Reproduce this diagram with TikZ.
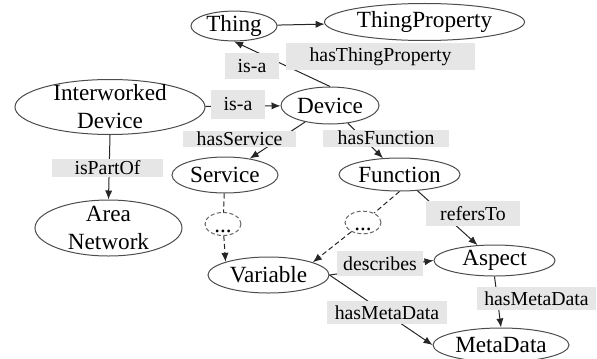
\documentclass[tikz,border=0pt]{standalone}
\usepackage{fontspec}
\setmainfont{Liberation Serif}
\usetikzlibrary{arrows.meta,shapes.geometric}
\definecolor{lblgray}{HTML}{E6E6E6}

\begin{document}
\begin{tikzpicture}[x=0.5pt,y=-0.5pt,>={Latex[length=4.5pt,width=3.6pt]},
  concept/.style={ellipse,draw=black!70,line width=0.5pt,inner sep=0pt,align=center,
    font=\fontsize{11.6}{14}\selectfont},
  hidden/.style={ellipse,draw=black!60,line width=0.5pt,dash pattern=on 2pt off 1.2pt,
    inner sep=0pt,text height=8pt,text depth=0pt,font=\fontsize{11.6}{14}\selectfont},
  rel/.style={fill=lblgray,inner sep=0pt,font=\fontsize{9.9}{12}\selectfont},
  edgeline/.style={black!85,line width=0.5pt},
  dashedge/.style={edgeline,dash pattern=on 2.5pt off 1.5pt}]
\useasboundingbox (0,0) rectangle (597,358);
% concepts
\node[concept,minimum width=43pt,minimum height=14pt]   (thing) at (234,26)    {Thing};
\node[concept,minimum width=100pt,minimum height=18.5pt] (tp)   at (424.5,22)  {ThingProperty};
\node[concept,minimum width=95pt,minimum height=27.5pt,inner ysep=-2pt] (iwd) at (110,107) {Interworked\\Device};
\node[concept,minimum width=49pt,minimum height=18.5pt]  (dev)  at (330,105.5) {Device};
\node[concept,minimum width=53pt,minimum height=18pt]    (serv) at (225,175)   {Service};
\node[concept,minimum width=60.5pt,minimum height=16.5pt] (func) at (399.5,174.5) {Function};
\node[concept,minimum width=73.5pt,minimum height=28pt,inner ysep=-2pt] (an) at (108.5,228) {Area\\Network};
\node[hidden,minimum width=18pt,minimum height=11.5pt]   (dota) at (223,224)   {...};
\node[hidden,minimum width=18pt,minimum height=10.5pt]   (dotb) at (363,222.5) {...};
\node[concept,minimum width=60.5pt,minimum height=18pt]  (var)  at (268.5,275) {Variable};
\node[concept,minimum width=60.5pt,minimum height=15.5pt] (asp) at (494.5,260.5) {Aspect};
\node[concept,minimum width=68pt,minimum height=17pt]    (md)   at (501,345)   {MetaData};
% relations
\path[->,edgeline]
          (thing)     edge (tp)
          (dev.north) edge (thing.south)
          (iwd)       edge (dev)
          (iwd.south) edge (an.north)
          (dev)       edge (serv)
          (dev)       edge (func)
          (func)      edge (asp)
          (var.east)  edge (asp.west)
          (var.east)  edge (md.west)
          (asp.south) edge (md.north);
\path[->,dashedge]
          (serv)       edge[-] (dota)
          (dota)       edge (var.163)
          (func.south) edge[-] (dotb)
          (dotb)       edge (var.16);
% labels
\node[rel,minimum width=27pt,minimum height=13pt]     (isaA) at (252,66)      {is-a};
\node[rel,minimum width=94.5pt,minimum height=13.5pt] (htp)  at (380.5,56.5)  {hasThingProperty};
\node[rel,minimum width=27pt,minimum height=14.5pt]   (isaB) at (238,104.5)   {is-a};
\node[rel,minimum width=56.5pt,minimum height=8pt]    (hsv)  at (239.5,139)   {hasService};
\node[rel,minimum width=63pt,minimum height=8.5pt]    (hfn)  at (386,138)     {hasFunction};
\node[rel,minimum width=55.5pt,minimum height=9pt]    (ipo)  at (107.5,168)   {isPartOf};
\node[rel,minimum width=47pt,minimum height=12.5pt]   (rto)  at (473,213.5)   {refersTo};
\node[rel,minimum width=43pt,minimum height=12.5pt]   (dsc)  at (380,263.5)   {describes};
\node[rel,minimum width=59.5pt,minimum height=11.5pt] (hmdA) at (536.5,298.5) {hasMetaData};
\node[rel,minimum width=60pt,minimum height=11.5pt]   (hmdB) at (387,312.5)   {hasMetaData};
\end{tikzpicture}
\end{document}
